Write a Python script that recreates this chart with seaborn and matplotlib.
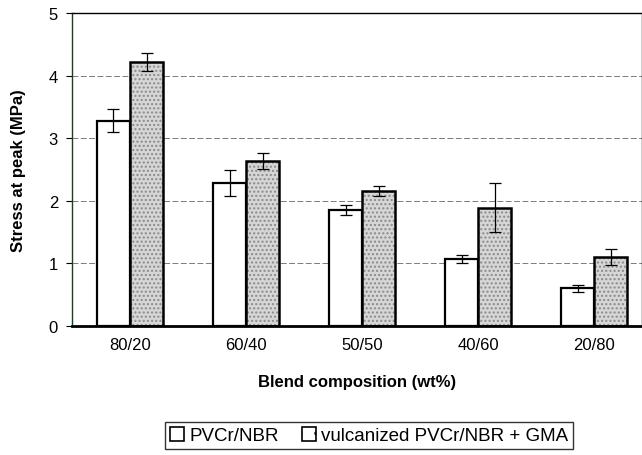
import matplotlib.pyplot as plt
import seaborn as sns
import pandas as pd
from matplotlib.patches import Rectangle

# values
blends = ["80/20", "60/40", "50/50", "40/60", "20/80"]
series = ["PVCr/NBR", "vulcanized PVCr/NBR + GMA"]
stress_plain = [3.28, 2.28, 1.85, 1.07, 0.60]
stress_gma = [4.22, 2.64, 2.16, 1.89, 1.10]
err_plain = [0.18, 0.21, 0.08, 0.06, 0.06]
err_gma = [0.15, 0.13, 0.08, 0.39, 0.13]

df = pd.DataFrame({
    "blend": blends * 2,
    "series": [series[0]] * 5 + [series[1]] * 5,
    "stress": stress_plain + stress_gma,
    "err": err_plain + err_gma,
})

sns.set_style("white")
plt.rcParams["font.family"] = ["Liberation Sans", "DejaVu Sans"]
plt.rcParams["text.color"] = "black"
plt.rcParams["axes.labelcolor"] = "black"
plt.rcParams["xtick.color"] = "black"
plt.rcParams["ytick.color"] = "black"

fig = plt.figure(figsize=(6.42, 4.56), dpi=100)
ax = fig.add_axes([0.112, 0.283, 0.888, 0.686])

sns.barplot(data=df, x="blend", y="stress", hue="series", order=blends,
            hue_order=series, palette=["white", "#d6d6d6"], errorbar=None,
            width=0.57, gap=0, legend=False, ax=ax, zorder=2)

ax.set_xlim(-0.5, 4.41)
ax.set_ylim(0, 5)

bars = [p for p in ax.patches if isinstance(p, Rectangle)][:10]
for i, p in enumerate(bars):
    p.set_edgecolor("black")
    p.set_linewidth(1.6)
    if i >= 5:
        # stippled fill, then a black outline on top
        p.set_hatch("....")
        p.set_edgecolor("#8a8a8a")
        p.set_linewidth(0)
        ax.add_patch(Rectangle(p.get_xy(), p.get_width(), p.get_height(),
                               fill=False, edgecolor="black", lw=1.8, zorder=3))

# error bars at bar centres
errs = err_plain + err_gma
vals = stress_plain + stress_gma
for i, p in enumerate(bars):
    cx = p.get_x() + p.get_width() / 2
    ax.errorbar(cx, vals[i], yerr=errs[i], fmt="none", ecolor="black",
                elinewidth=0.9, capsize=4, capthick=0.9, zorder=4)

ax.yaxis.grid(True, linestyle=(0, (7, 3)), color="#666666", linewidth=0.6)
ax.set_axisbelow(True)
ax.set_yticks([0, 1, 2, 3, 4, 5])
ax.tick_params(axis="y", length=4, width=0.8, labelsize=12, left=True, pad=6)
ax.tick_params(axis="x", length=0, labelsize=12, pad=8)
for s in ax.spines.values():
    s.set_color("black")
    s.set_linewidth(1.0)
ax.spines["left"].set_color("#1f3d1f")
ax.spines["bottom"].set_linewidth(2.0)

ax.set_xlabel("Blend composition (wt%)", fontsize=12, fontweight="bold", labelpad=16)
ax.set_ylabel("Stress at peak (MPa)", fontsize=12, fontweight="bold", labelpad=16)

handles = [
    Rectangle((0, 0), 1, 1, facecolor="white", edgecolor="black", lw=1.2),
    Rectangle((0, 0), 1, 1, facecolor="white", edgecolor="black", lw=1.2, hatch="    ."),
]
leg = fig.legend(handles, series, loc="lower center", bbox_to_anchor=(0.575, 0.005),
                 ncol=2, frameon=True, fancybox=False, fontsize=13.5,
                 handlelength=0.75, handleheight=0.75, handletextpad=0.3,
                 columnspacing=1.2, borderpad=0.25, borderaxespad=0.2,
                 edgecolor="black")
leg.get_frame().set_linewidth(1.0)

fig.savefig("out.png", dpi=100)
